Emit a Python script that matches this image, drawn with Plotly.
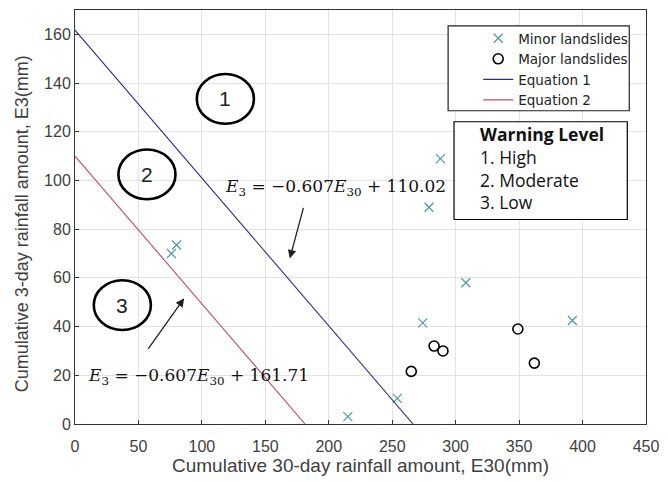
import plotly.graph_objects as go

# Data
minor_x = [76, 80, 215, 254, 274, 279, 288, 308, 392]
minor_y = [70, 73.5, 3, 10.5, 41.5, 89, 109, 58, 42.5]
major_x = [265, 283, 290, 349, 362]
major_y = [21.6, 32, 30, 39, 25]
eq1_x = [0, 266.4]
eq1_y = [161.71, 0]
eq2_x = [0, 181.3]
eq2_y = [110.02, 0]

x_ticks = [0, 50, 100, 150, 200, 250, 300, 350, 400, 450]
y_ticks = [0, 20, 40, 60, 80, 100, 120, 140, 160]

fig = go.Figure()
fig.add_trace(go.Scatter(x=minor_x, y=minor_y, mode="markers", name="Minor landslides",
                         marker=dict(symbol="x-thin", size=9, line=dict(color="#4f9a9a", width=1.2),
                                     color="#4f9a9a")))
fig.add_trace(go.Scatter(x=major_x, y=major_y, mode="markers", name="Major landslides",
                         marker=dict(symbol="circle-open", size=10, color="black",
                                     line=dict(color="black", width=1.6))))
fig.add_trace(go.Scatter(x=eq1_x, y=eq1_y, mode="lines", name="Equation 1",
                         line=dict(color="#2e2e7a", width=1.1)))
fig.add_trace(go.Scatter(x=eq2_x, y=eq2_y, mode="lines", name="Equation 2",
                         line=dict(color="#b8505f", width=1.1)))

def px_x(p):
    return (p - 75) / 580

def px_y(p):
    return (424 - p) / 415

# Circled level numbers
circles = [("1", 118.5, 133.5), ("2", 56.7, 102.5), ("3", 37.3, 48.8)]
rx, ry = 22.5, 10.2
shapes = []
annotations = []
for label, cx, cy in circles:
    shapes.append(dict(type="circle", xref="x", yref="y", x0=cx - rx, x1=cx + rx,
                       y0=cy - ry, y1=cy + ry, line=dict(color="black", width=2.6)))
    annotations.append(dict(x=cx, y=cy, xref="x", yref="y", text=label, showarrow=False,
                            font=dict(family="Liberation Sans, Arial", size=21, color="#222222")))

eqfont = dict(family="DejaVu Serif", size=17, color="#111111")
annotations.append(dict(x=205.5, y=97, xref="x", yref="y", showarrow=False,
                        text="<i>E</i><sub>3</sub> = −0.607<i>E</i><sub>30</sub> + 110.02", font=eqfont))
annotations.append(dict(x=97.5, y=19.5, xref="x", yref="y", showarrow=False,
                        text="<i>E</i><sub>3</sub> = −0.607<i>E</i><sub>30</sub> + 161.71", font=eqfont))
# arrows
annotations.append(dict(x=169.3, y=68, xref="x", yref="y", ax=14, ay=-52, text="",
                        showarrow=True, arrowhead=2, arrowsize=1.3, arrowwidth=1.3, arrowcolor="#222222"))
annotations.append(dict(x=86, y=51.6, xref="x", yref="y", ax=-37, ay=52, text="",
                        showarrow=True, arrowhead=2, arrowsize=1.3, arrowwidth=1.3, arrowcolor="#222222"))

# Legend frame
shapes.append(dict(type="rect", xref="paper", yref="paper",
                   x0=px_x(454), x1=px_x(638), y0=px_y(110), y1=px_y(25),
                   line=dict(color="#222222", width=1.2), fillcolor="white", layer="above"))

# Warning level box
shapes.append(dict(type="rect", xref="paper", yref="paper",
                   x0=px_x(460), x1=px_x(636), y0=px_y(219), y1=px_y(121),
                   line=dict(color="black", width=1.2), fillcolor="white", layer="above"))
annotations.append(dict(xref="paper", yref="paper", x=px_x(484), y=px_y(119),
                        xanchor="left", yanchor="top", align="left", showarrow=False,
                        text="<b>Warning Level</b><br>1. High<br>2. Moderate<br>3. Low",
                        font=dict(family="Open Sans", size=17.5, color="#111111")))

# Y axis title as annotation (positioned like the reference)
annotations.append(dict(xref="paper", yref="paper", x=px_x(22), y=px_y(223),
                        xanchor="center", yanchor="middle", textangle=-90, showarrow=False,
                        text="Cumulative 3-day rainfall amount, E3(mm)",
                        font=dict(family="Liberation Sans, Arial", size=18, color="#404040")))

fig.update_layout(
    width=668, height=482,
    margin=dict(l=75, r=13, t=9, b=58),
    paper_bgcolor="white", plot_bgcolor="white",
    showlegend=True,
    legend=dict(x=px_x(642), y=px_y(22), xanchor="right", yanchor="top",
                borderwidth=0, bgcolor="rgba(0,0,0,0)",
                font=dict(family="DejaVu Sans", size=13.5, color="#222222"),
                tracegroupgap=0, itemwidth=30),
    shapes=shapes, annotations=annotations,
    font=dict(family="Liberation Sans, Arial", color="#404040"),
)
fig.update_xaxes(range=[0, 450], tickvals=x_ticks, showgrid=True, gridcolor="#e3e3e3",
                 showline=True, linecolor="#333333", linewidth=1, mirror=True, zeroline=False,
                 ticks="inside", ticklen=4, tickcolor="#333333", ticklabelstandoff=8,
                 ticklabeloverflow="allow",
                 tickfont=dict(size=16, color="#404040"),
                 title=dict(text="Cumulative 30-day rainfall amount, E30(mm)",
                            font=dict(size=19, color="#404040"), standoff=2))
fig.update_yaxes(range=[0, 170], tickvals=y_ticks, showgrid=True, gridcolor="#e3e3e3",
                 showline=True, linecolor="#333333", linewidth=1, mirror=True, zeroline=False,
                 ticks="inside", ticklen=4, tickcolor="#333333",
                 tickfont=dict(size=16, color="#404040"))

fig.write_html("out.html")
